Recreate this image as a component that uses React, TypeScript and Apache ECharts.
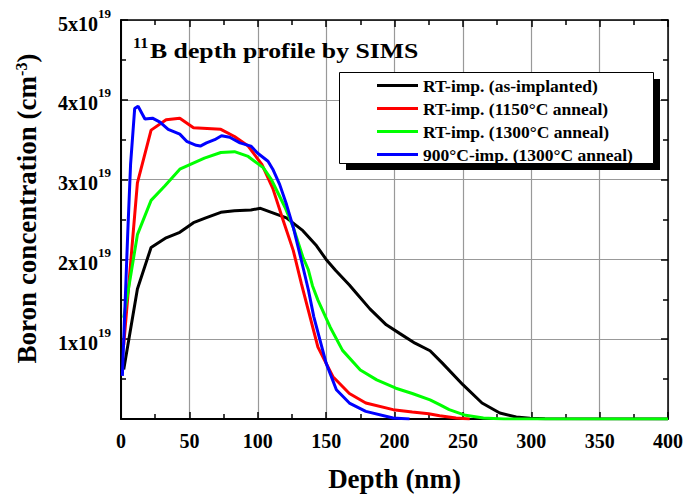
import React, { useEffect, useRef } from "react";
import * as echarts from "echarts";

// Depth in nm, concentration in units of 1e19 cm^-3
const seriesNames = [
  "RT-imp. (as-implanted)",
  "RT-imp. (1150°C anneal)",
  "RT-imp. (1300°C anneal)",
  "900°C-imp. (1300°C anneal)",
];
const seriesColors = ["#000000", "#ff0000", "#00ff00", "#0000ff"];

const blackDepth = [2, 12, 22, 33, 43, 53, 62, 73, 83, 95, 102, 110, 121, 133, 143, 150, 157, 167, 172, 182, 194, 204, 215, 226, 235, 250, 264, 277, 289, 299, 310, 400];
const blackConc = [0.62, 1.63, 2.15, 2.27, 2.34, 2.46, 2.52, 2.59, 2.61, 2.62, 2.64, 2.59, 2.52, 2.36, 2.17, 2.0, 1.86, 1.68, 1.58, 1.38, 1.18, 1.07, 0.95, 0.855, 0.7, 0.43, 0.2, 0.075, 0.025, 0.01, 0.003, 0.0];

const redDepth = [2, 12, 22, 33, 43, 53, 73, 83, 93, 103, 111, 118, 126, 132, 137, 144, 155, 167, 179, 199, 213, 225, 233, 245, 255];
const redConc = [0.93, 2.96, 3.62, 3.75, 3.77, 3.65, 3.63, 3.54, 3.42, 3.19, 2.89, 2.52, 2.11, 1.69, 1.36, 0.9, 0.53, 0.32, 0.2, 0.117, 0.087, 0.065, 0.042, 0.012, 0.0];

const greenDepth = [2, 12, 22, 32, 43, 61, 73, 83, 93, 104, 110, 114, 120, 126, 133, 137, 140, 144, 153, 162, 175, 187, 201, 213, 226, 233, 240, 252, 265, 280, 400];
const greenConc = [1.27, 2.31, 2.74, 2.92, 3.13, 3.27, 3.34, 3.35, 3.29, 3.15, 3.0, 2.86, 2.65, 2.4, 2.03, 1.87, 1.67, 1.49, 1.15, 0.86, 0.615, 0.49, 0.386, 0.32, 0.24, 0.18, 0.117, 0.046, 0.012, 0.0, 0.0];

const blueDepth = [1, 5, 7, 10, 12.5, 17.5, 23, 28.5, 34.5, 43, 48, 55, 58, 62.5, 68.5, 73.5, 79.5, 87, 95, 100, 107.5, 111, 116, 121, 126, 132, 137, 141, 150, 157.5, 167, 179, 199, 211];
const blueConc = [0.54, 2.36, 3.19, 3.89, 3.92, 3.76, 3.77, 3.72, 3.63, 3.57, 3.48, 3.43, 3.42, 3.46, 3.5, 3.55, 3.53, 3.46, 3.42, 3.33, 3.23, 3.13, 2.94, 2.69, 2.4, 1.98, 1.62, 1.28, 0.7, 0.366, 0.2, 0.096, 0.012, 0.0];

const xTicks = { min: 0, max: 400, interval: 50 };
const yTicks = { min: 0, max: 5, interval: 1 };

const titleSup = "11";
const titleMain = "B depth profile by SIMS";

const FONT = "'Liberation Serif', 'Times New Roman', serif";

const allDepth = [blackDepth, redDepth, greenDepth, blueDepth];
const allConc = [blackConc, redConc, greenConc, blueConc];

export default function App() {
  const ref = useRef<HTMLDivElement>(null);
  useEffect(() => {
    if (!ref.current) return;
    const chart = echarts.init(ref.current, undefined, { renderer: "svg" });
    const axisCommon = {
      axisLine: { show: true, onZero: false, lineStyle: { color: "#000", width: 2 } },
      axisTick: { show: true, inside: true, length: 7, lineStyle: { color: "#000", width: 1.5 } },
      minorTick: { show: true, splitNumber: 2, length: 5, lineStyle: { color: "#000", width: 1.5 } },
    };
    chart.setOption({
      animation: false,
      backgroundColor: "#fff",
      grid: { left: 121, right: 17, top: 20, bottom: 74 },
      xAxis: [
        {
          type: "value",
          ...xTicks,
          position: "bottom",
          ...axisCommon,
          splitLine: { show: true, lineStyle: { color: "#999", width: 1.2 } },
          axisLabel: { show: true, margin: 12, fontFamily: FONT, fontWeight: "bold", fontSize: 20, color: "#000" },
          name: "Depth (nm)",
          nameLocation: "middle",
          nameGap: 46,
          nameTextStyle: { fontFamily: FONT, fontWeight: "bold", fontSize: 27, color: "#000" },
        },
        {
          type: "value",
          ...xTicks,
          position: "top",
          ...axisCommon,
          axisLine: { show: true, onZero: false, lineStyle: { color: "#000", width: 1.5 } },
          splitLine: { show: false },
          axisLabel: { show: false },
        },
      ],
      yAxis: [
        {
          type: "value",
          ...yTicks,
          position: "left",
          ...axisCommon,
          splitLine: { show: true, lineStyle: { color: "#999", width: 1.2 } },
          axisLabel: {
            show: true,
            margin: 10,
            formatter: (v: number) => (v === 0 ? "" : `{b|${v}x10}{s|19}`),
            rich: {
              b: { fontFamily: FONT, fontWeight: "bold", fontSize: 20, color: "#000", padding: [7, 0, 0, 0] },
              s: { fontFamily: FONT, fontWeight: "bold", fontSize: 13, color: "#000", verticalAlign: "top", padding: [0, 0, 6, 0] },
            },
          },
          name: "{b|Boron concentration (cm}{s|-3}{b|)}",
          nameLocation: "middle",
          nameRotate: 90,
          nameGap: 80,
          nameTextStyle: {
            padding: [0, 0, 0, 22],
            rich: {
              b: { fontFamily: FONT, fontWeight: "bold", fontSize: 27, color: "#000" },
              s: { fontFamily: FONT, fontWeight: "bold", fontSize: 16, color: "#000", verticalAlign: "top", padding: [0, 0, 12, 0] },
            },
          },
        },
        {
          type: "value",
          ...yTicks,
          position: "right",
          ...axisCommon,
          axisLine: { show: true, onZero: false, lineStyle: { color: "#000", width: 1.5 } },
          splitLine: { show: false },
          axisLabel: { show: false },
        },
      ],
      legend: {
        orient: "vertical",
        left: 377,
        top: 74,
        padding: 0,
        itemGap: 0,
        itemWidth: 41,
        itemHeight: 3,
        icon: "rect",
        z: 100,
        data: seriesNames,
        textStyle: { fontFamily: FONT, fontWeight: "bold", fontSize: 17.5, color: "#000", lineHeight: 23 },
      },
      graphic: [
        { type: "rect", z: 40, shape: { x: 346, y: 79, width: 314, height: 91 }, style: { fill: "#000" } },
        { type: "rect", z: 41, shape: { x: 339.5, y: 72.5, width: 314, height: 91 }, style: { fill: "#fff", stroke: "#000", lineWidth: 1 } },
        {
          type: "text",
          z: 60,
          x: 133,
          y: 43,
          scaleX: 1.15,
          style: { text: titleSup, font: `bold 14px ${FONT}`, fill: "#000", verticalAlign: "middle", align: "left" },
        },
        {
          type: "text",
          z: 60,
          x: 150,
          y: 50.5,
          scaleX: 1.17,
          style: { text: titleMain, font: `bold 22px ${FONT}`, fill: "#000", verticalAlign: "middle", align: "left" },
        },
      ],
      series: seriesNames.map((name, i) => ({
        name,
        type: "line",
        xAxisIndex: 0,
        yAxisIndex: 0,
        showSymbol: false,
        symbol: "none",
        smooth: false,
        lineStyle: { color: seriesColors[i], width: 3 },
        itemStyle: { color: seriesColors[i] },
        data: allDepth[i].map((d, j) => [d, allConc[i][j]]),
        z: 10 + i,
      })),
    });
    return () => chart.dispose();
  }, []);
  return <div ref={ref} style={{ position: "absolute", left: 0, top: 0, width: 686, height: 497 }} />;
}
